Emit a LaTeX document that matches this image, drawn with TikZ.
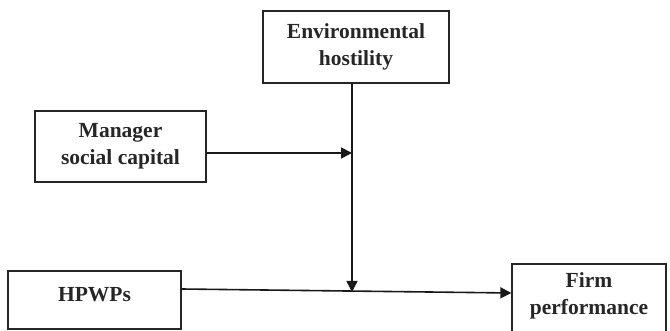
\documentclass[tikz,border=0pt]{standalone}
\usepackage{fontspec}
\setmainfont{Liberation Serif}
\usetikzlibrary{arrows.meta}
\begin{document}
\begin{tikzpicture}[x=1pt,y=-1pt,
  boxfont/.style={font=\fontsize{21.5}{27}\selectfont\bfseries,text=black!85,align=center},
  box/.style={draw=black!85,line width=1.3pt,rectangle,inner sep=0pt,boxfont},
  conn/.style={line width=1.6pt,draw=black!90},
  arr/.style={conn,-{Triangle[length=11pt,width=11pt]}}]
\useasboundingbox (0,0) rectangle (670,331);
\node[box,minimum width=186pt,minimum height=72pt] (env) at (356,47) {Environmental\\hostility};
\node[box,minimum width=171pt,minimum height=71pt] (mgr) at (120.5,146.5) {Manager\\social capital};
\node[box,minimum width=173pt,minimum height=58pt,text depth=12pt] (hp) at (94.5,300) {HPWPs};
\node[box,minimum width=154pt,minimum height=84pt,
  label={[boxfont,yshift=10.5pt]center:Firm\\performance}] (firm) at (589,306) {};
\coordinate (v0) at (352,83);
\coordinate (m1) at (352,153);
\coordinate (v1) at (352,292);
\draw[conn] (v0) -- (m1);
\draw[arr] (m1) -- (v1);
\draw[arr] (mgr.east |- m1) -- (m1);
\draw[arr] ([yshift=11pt]hp.east) -- ([yshift=13pt]firm.west);
\end{tikzpicture}
\end{document}
